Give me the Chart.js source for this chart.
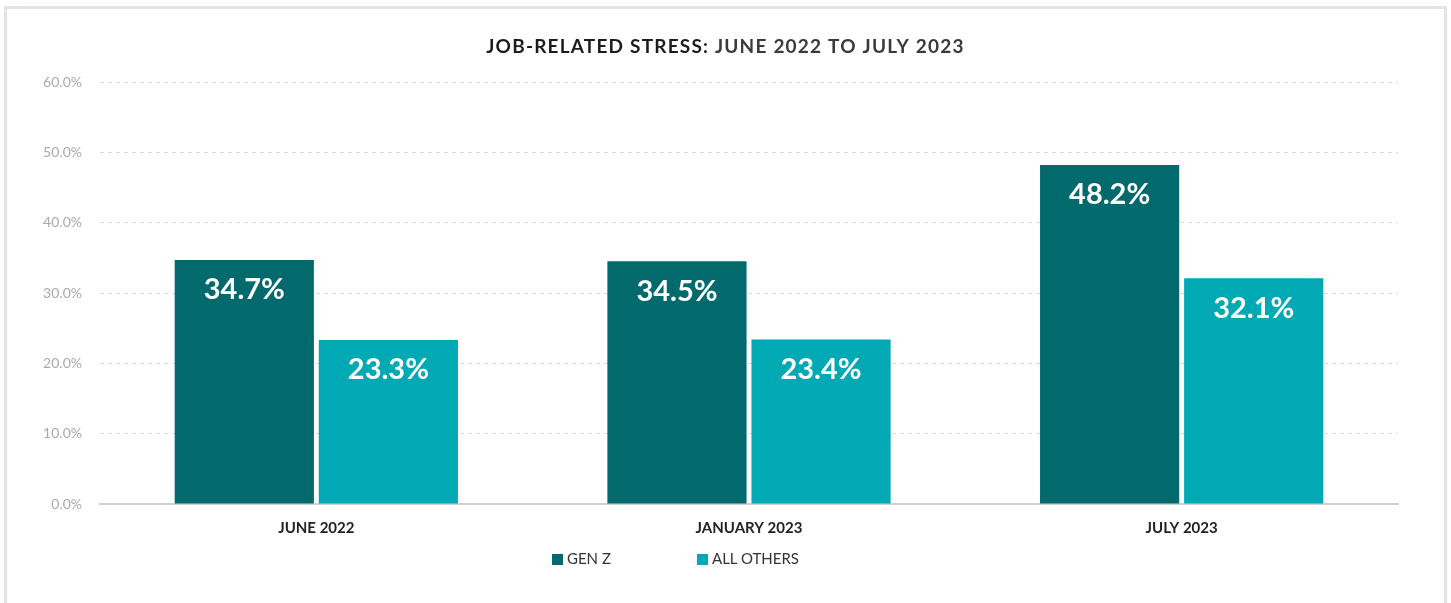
<!DOCTYPE html>
<html>
<head>
<meta charset="utf-8">
<script src="https://cdn.jsdelivr.net/npm/chart.js@4"></script>
<style>
    html, body { margin: 0; padding: 0; background: #fff; overflow: hidden; }
    #frame {
        position: absolute; left: 4px; top: 6px; width: 1437px; height: 640px;
        border: 3px solid #e1e4e4;
    }
    #stressChart { position: absolute; left: 0; top: 0; }
    #legend {
        position: absolute; top: 549px; left: 0; width: 1451px; height: 18px;
        font: 15px Lato, sans-serif; color: #333;
    }
    #legend .item { position: absolute; top: 0; line-height: 18px; white-space: nowrap; }
    #legend .box {
        display: inline-block; width: 11px; height: 11px;
        margin-right: 4px; vertical-align: -1px;
    }
</style>
</head>
<body>
<div id="frame"></div>
<canvas id="stressChart" width="1451" height="603"></canvas>
<div id="legend"></div>
<script>
const periods = ['JUNE 2022', 'JANUARY 2023', 'JULY 2023'];
const genZ = [34.7, 34.5, 48.2];
const allOthers = [23.3, 23.4, 32.1];
const yTicks = [0, 10, 20, 30, 40, 50, 60];
const seriesNames = ['GEN Z', 'ALL OTHERS'];
const seriesColors = ['#026a6c', '#01a9b5'];

const FONT = 'Lato, sans-serif';

// two-tone heading centred on the canvas
const heading = {
    id: 'heading',
    afterDraw(chart) {
        const ctx = chart.ctx;
        const lead = 'JOB-RELATED STRESS: ';
        const rest = 'JUNE 2022 TO JULY 2023';
        ctx.save();
        ctx.font = 'bold 19px ' + FONT;
        ctx.letterSpacing = '1.2px';
        ctx.textBaseline = 'middle';
        ctx.textAlign = 'left';
        const w1 = ctx.measureText(lead).width;
        const w2 = ctx.measureText(rest).width;
        const x = chart.width / 2 - (w1 + w2) / 2;
        ctx.fillStyle = '#1c1c1c';
        ctx.fillText(lead, x, 47);
        ctx.fillStyle = '#3a3a3a';
        ctx.fillText(rest, x + w1, 47);
        ctx.restore();
    }
};

// white value labels just inside the top of each bar
const barLabels = {
    id: 'barLabels',
    afterDatasetsDraw(chart) {
        const ctx = chart.ctx;
        ctx.save();
        ctx.fillStyle = '#ffffff';
        ctx.font = 'bold 29px ' + FONT;
        ctx.textAlign = 'center';
        ctx.textBaseline = 'middle';
        chart.data.datasets.forEach((ds, i) => {
            chart.getDatasetMeta(i).data.forEach((bar, j) => {
                ctx.fillText(ds.data[j].toFixed(1) + '%', bar.x, bar.y + 30);
            });
        });
        ctx.restore();
    }
};

// html legend under the axis
const legendLeft = [552, 697];
const htmlLegend = {
    id: 'htmlLegend',
    afterUpdate(chart) {
        const box = document.getElementById('legend');
        box.innerHTML = '';
        chart.data.datasets.forEach((ds, i) => {
            const item = document.createElement('span');
            item.className = 'item';
            item.style.left = legendLeft[i] + 'px';
            const sw = document.createElement('span');
            sw.className = 'box';
            sw.style.background = ds.backgroundColor;
            item.appendChild(sw);
            item.appendChild(document.createTextNode(ds.label));
            box.appendChild(item);
        });
    }
};

new Chart(document.getElementById('stressChart'), {
    type: 'bar',
    data: {
        labels: periods,
        datasets: [{
            label: seriesNames[0],
            data: genZ,
            backgroundColor: seriesColors[0]
        }, {
            label: seriesNames[1],
            data: allOthers,
            backgroundColor: seriesColors[1]
        }]
    },
    options: {
        responsive: false,
        animation: false,
        categoryPercentage: 0.666,
        barPercentage: 0.966,
        layout: { padding: { top: 82, right: 53, bottom: 51, left: 0 } },
        plugins: {
            legend: { display: false },
            tooltip: { enabled: false }
        },
        scales: {
            x: {
                grid: { display: false, drawTicks: false },
                border: { display: true, color: '#d0d0d0', width: 2 },
                ticks: {
                    padding: 15,
                    color: '#222',
                    font: { family: FONT, size: 15, weight: 'bold' }
                }
            },
            y: {
                min: 0,
                max: 60,
                afterFit(scale) { scale.width = 100; },
                afterBuildTicks(scale) { scale.ticks = yTicks.map(v => ({ value: v })); },
                grid: { color: '#d9d9d9', lineWidth: 1, drawTicks: false },
                border: { display: false, dash: [4, 4] },
                ticks: {
                    padding: 18,
                    color: '#aaaaaa',
                    font: { family: FONT, size: 14 },
                    callback: v => v.toFixed(1) + '%'
                }
            }
        }
    },
    plugins: [heading, barLabels, htmlLegend]
});
</script>
</body>
</html>
